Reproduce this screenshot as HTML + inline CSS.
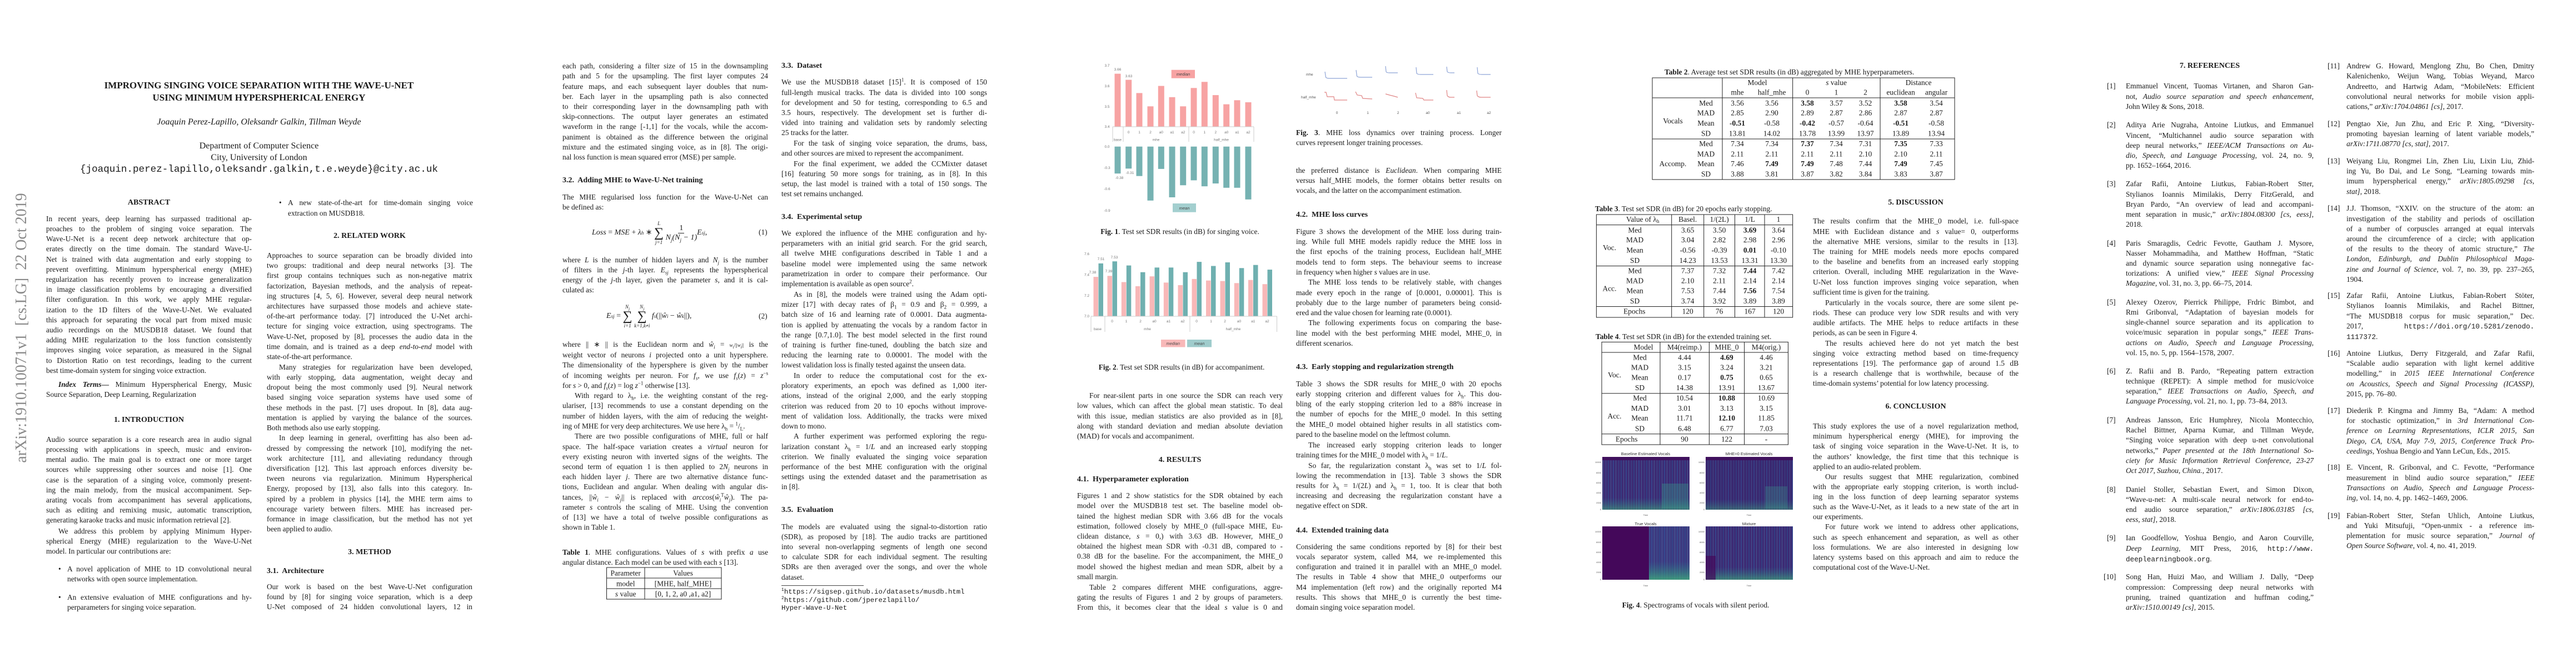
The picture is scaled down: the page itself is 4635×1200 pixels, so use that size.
<!DOCTYPE html>
<html><head><meta charset="utf-8">
<style>
body{margin:0;width:4635px;height:1200px;background:#fff;position:relative;overflow:hidden;font-family:"Liberation Serif",serif;color:#1a1a1a}
sub,sup{line-height:0}
.t{position:absolute;margin:0;width:370px;font-size:13.4px;line-height:18.2px;white-space:nowrap;text-align:justify;text-align-last:justify}
.t e{display:block;text-align-last:left;text-indent:0}
.i{text-indent:22px}
.h{position:absolute;font-weight:bold;font-size:14px;line-height:18px;width:370px;text-align:center;white-space:nowrap}
.sh{position:absolute;font-weight:bold;font-size:14px;line-height:18px;white-space:nowrap}
.c{position:absolute;white-space:nowrap;font-size:13.4px;line-height:18.2px}
.r{position:absolute;font-size:13.4px;line-height:18.2px}
.r .n{position:absolute;left:0;top:0}
.r .t{left:34px;top:0;width:338px}
tt{font-family:"Liberation Mono",monospace;font-size:12.6px}
.fn{position:absolute;font-family:"Liberation Mono",monospace;font-size:12.3px;line-height:14.6px;white-space:nowrap}
</style></head><body>

<div style="position:absolute;left:39px;top:590px;transform:translate(-50%,-50%) rotate(-90deg);font-size:28px;color:#8a8a8a;white-space:nowrap;font-family:'Liberation Serif',serif">arXiv:1910.10071v1&nbsp;&nbsp;[cs.LG]&nbsp;&nbsp;22 Oct 2019</div>

<!-- PAGE 1 -->
<div class="c" style="left:66px;width:800px;top:143px;text-align:center;font-weight:bold;font-size:17px;line-height:22px">IMPROVING SINGING VOICE SEPARATION WITH THE WAVE-U-NET<br>USING MINIMUM HYPERSPHERICAL ENERGY</div>
<div class="c" style="left:66px;width:800px;top:210px;text-align:center;font-style:italic;font-size:16px;line-height:20px">Joaquin Perez-Lapillo, Oleksandr Galkin, Tillman Weyde</div>
<div class="c" style="left:66px;width:800px;top:252px;text-align:center;font-size:16px;line-height:21px">Department of Computer Science<br>City, University of London</div>
<div class="c" style="left:66px;width:800px;top:294px;text-align:center;font-family:'Liberation Mono',monospace;font-size:17.6px;line-height:22px">{joaquin.perez-lapillo,oleksandr.galkin,t.e.weyde}@city.ac.uk</div>

<div class="h" style="left:83px;top:356px">ABSTRACT</div>
<p class="t" style="left:83px;top:384.7px">In recent years, deep learning has surpassed traditional ap-<br>proaches to the problem of singing voice separation. The<br>Wave-U-Net is a recent deep network architecture that op-<br>erates directly on the time domain. The standard Wave-U-<br>Net is trained with data augmentation and early stopping to<br>prevent overfitting. Minimum hyperspherical energy (MHE)<br>regularization has recently proven to increase generalization<br>in image classification problems by encouraging a diversified<br>filter configuration. In this work, we apply MHE regular-<br>ization to the 1D filters of the Wave-U-Net. We evaluated<br>this approach for separating the vocal part from mixed music<br>audio recordings on the MUSDB18 dataset. We found that<br>adding MHE regularization to the loss function consistently<br>improves singing voice separation, as measured in the Signal<br>to Distortion Ratio on test recordings, leading to the current<e>best time-domain system for singing voice extraction.</e></p>
<p class="t i" style="left:83px;top:683.2px"><b><i>Index Terms</i>—</b> Minimum Hyperspherical Energy, Music<e>Source Separation, Deep Learning, Regularization</e></p>
<div class="h" style="left:83px;top:747px">1. INTRODUCTION</div>
<p class="t" style="left:83px;top:781.7px">Audio source separation is a core research area in audio signal<br>processing with applications in speech, music and environ-<br>mental audio. The main goal is to extract one or more target<br>sources while suppressing other sources and noise [1]. One<br>case is the separation of a singing voice, commonly present-<br>ing the main melody, from the musical accompaniment. Sep-<br>arating vocals from accompaniment has several applications,<br>such as editing and remixing music, automatic transcription,<e>generating karaoke tracks and music information retrieval [2].</e></p>
<p class="t i" style="left:83px;top:946.9px">We address this problem by applying Minimum Hyper-<br>spherical Energy (MHE) regularization to the Wave-U-Net<e>model. In particular our contributions are:</e></p>
<div class="c" style="left:105px;top:1014.7px">•</div>
<p class="t" style="left:121px;width:332px;top:1014.7px">A novel application of MHE to 1D convolutional neural<e>networks with open source implementation.</e></p>
<div class="c" style="left:105px;top:1065.5px">•</div>
<p class="t" style="left:121px;width:332px;top:1065.5px">An extensive evaluation of MHE configurations and hy-<e>perparameters for singing voice separation.</e></p>

<div class="c" style="left:502px;top:356.3px">•</div>
<p class="t" style="left:518px;width:333px;top:356.3px">A new state-of-the-art for time-domain singing voice<e>extraction on MUSDB18.</e></p>
<div class="h" style="left:480px;top:416.3px">2. RELATED WORK</div>
<p class="t" style="left:480px;top:450.9px">Approaches to source separation can be broadly divided into<br>two groups: traditional and deep neural networks [3]. The<br>first group contains techniques such as non-negative matrix<br>factorization, Bayesian methods, and the analysis of repeat-<br>ing structures [4, 5, 6]. However, several deep neural network<br>architectures have surpassed those models and achieve state-<br>of-the-art performance today. [7] introduced the U-Net archi-<br>tecture for singing voice extraction, using spectrograms. The<br>Wave-U-Net, proposed by [8], processes the audio data in the<br>time domain, and is trained as a deep <i>end-to-end</i> model with<e>state-of-the-art performance.</e></p>
<p class="t i" style="left:480px;top:651.7px">Many strategies for regularization have been developed,<br>with early stopping, data augmentation, weight decay and<br>dropout being the most commonly used [9]. Neural network<br>based singing voice separation systems have used some of<br>these methods in the past. [7] uses dropout. In [8], data aug-<br>mentation is applied by varying the balance of the sources.<e>Both methods also use early stopping.</e></p>
<p class="t i" style="left:480px;top:779.4px">In deep learning in general, overfitting has also been ad-<br>dressed by compressing the network [10], modifying the net-<br>work architecture [11], and alleviating redundancy through<br>diversification [12]. This last approach enforces diversity be-<br>tween neurons via regularization. Minimum Hyperspherical<br>Energy, proposed by [13], also falls into this category. In-<br>spired by a problem in physics [14], the MHE term aims to<br>encourage variety between filters. MHE has increased per-<br>formance in image classification, but the method has not yet<e>been applied to audio.</e></p>
<div class="h" style="left:480px;top:984.7px">3. METHOD</div>
<div class="sh" style="left:480px;top:1019.4px">3.1.&nbsp; Architecture</div>
<p class="t" style="left:480px;top:1046.9px">Our work is based on the best Wave-U-Net configuration<br>found by [8] for singing voice separation, which is a deep<br>U-Net composed of 24 hidden convolutional layers, 12 in</p>

<!-- PAGE 2 -->
<p class="t" style="left:1012px;top:110.1px">each path, considering a filter size of 15 in the downsampling<br>path and 5 for the upsampling. The first layer computes 24<br>feature maps, and each subsequent layer doubles that num-<br>ber. Each layer in the upsampling path is also connected<br>to their corresponding layer in the downsampling path with<br>skip-connections. The output layer generates an estimated<br>waveform in the range [-1,1] for the vocals, while the accom-<br>paniment is obtained as the difference between the original<br>mixture and the estimated singing voice, as in [8]. The origi-<e>nal loss function is mean squared error (MSE) per sample.</e></p>
<div class="sh" style="left:1012px;top:316.3px">3.2.&nbsp; Adding MHE to Wave-U-Net training</div>
<p class="t" style="left:1012px;top:345.5px">The MHE regularised loss function for the Wave-U-Net can<e>be defined as:</e></p>
<div class="c" style="left:1065px;top:390px;font-style:italic;font-size:14px;display:flex;align-items:center;height:58px">Loss<span style="font-style:normal">&nbsp;=&nbsp;</span>MSE<span style="font-style:normal">&nbsp;+&nbsp;</span>λ<sub style="font-size:9px">h</sub><span style="font-style:normal">&nbsp;∗&nbsp;</span><span style="display:inline-flex;flex-direction:column;align-items:center;font-size:9px;line-height:10px"><span>L</span><span style="font-size:24px;line-height:24px;font-style:normal">∑</span><span>j=1</span></span>&nbsp;<span style="display:inline-flex;flex-direction:column;align-items:center;line-height:16px"><span style="font-style:normal;border-bottom:1px solid #222;padding:0 2px">1</span><span>N<sub style="font-size:9px">j</sub>(N<sub style="font-size:9px">j</sub> − 1)</span></span>E<sub style="font-size:9px">sj</sub><span style="font-style:normal">,</span></div>
<div class="c" style="left:1365px;top:409.4px">(1)</div>
<p class="t" style="left:1012px;top:458.6px">where <i>L</i> is the number of hidden layers and <i>N<sub style="font-size:9px">j</sub></i> is the number<br>of filters in the <i>j</i>-th layer. <i>E<sub style="font-size:9px">sj</sub></i> represents the hyperspherical<br>energy of the <i>j</i>-th layer, given the parameter <i>s</i>, and it is cal-<e>culated as:</e></p>
<div class="c" style="left:1091px;top:540px;font-style:italic;font-size:14px;display:flex;align-items:center;height:58px">E<sub style="font-size:9px">sj</sub><span style="font-style:normal">&nbsp;=&nbsp;</span><span style="display:inline-flex;flex-direction:column;align-items:center;font-size:9px;line-height:10px"><span>N<sub>j</sub></span><span style="font-size:24px;line-height:24px;font-style:normal">∑</span><span>i=1</span></span>&nbsp;<span style="display:inline-flex;flex-direction:column;align-items:center;font-size:9px;line-height:10px"><span>N<sub>j</sub></span><span style="font-size:24px;line-height:24px;font-style:normal">∑</span><span>k=1,k≠i</span></span>&nbsp;f<sub style="font-size:9px">s</sub><span style="font-style:normal">(||</span>ŵ<sub style="font-size:9px">i</sub><span style="font-style:normal">&nbsp;−&nbsp;</span>ŵ<sub style="font-size:9px">k</sub><span style="font-style:normal">||),</span></div>
<div class="c" style="left:1365px;top:560px">(2)</div>
<p class="t" style="left:1012px;top:610.9px">where || ∗ || is the Euclidean norm and <i>ŵ<sub style="font-size:9px">i</sub></i> = <span style="font-size:9px"><i>w<sub>i</sub></i>/||<i>w<sub>i</sub></i>||</span> is the<br>weight vector of neurons <i>i</i> projected onto a unit hypersphere.<br>The dimensionality of the hypersphere is given by the number<br>of incoming weights per neuron. For <i>f<sub style="font-size:9px">s</sub></i>, we use <i>f<sub style="font-size:9px">s</sub></i>(<i>z</i>) = <i>z</i><sup style="font-size:9px">−s</sup><e>for <i>s</i> &gt; 0, and <i>f<sub style="font-size:9px">s</sub></i>(<i>z</i>) = log <i>z</i><sup style="font-size:9px">−1</sup> otherwise [13].</e></p>
<p class="t i" style="left:1012px;top:703.2px">With regard to λ<sub style="font-size:9px">h</sub>, i.e. the weighting constant of the reg-<br>ulariser, [13] recommends to use a constant depending on the<br>number of hidden layers, with the aim of reducing the weight-<e>ing of MHE for very deep architectures. We use here λ<sub style="font-size:9px">h</sub> = <sup style="font-size:9px">1</sup>/<sub style="font-size:9px">L</sub>.</e></p>
<p class="t i" style="left:1012px;top:776.3px">There are two possible configurations of MHE, full or half<br>space. The half-space variation creates a <i>virtual</i> neuron for<br>every existing neuron with inverted signs of the weights. The<br>second term of equation 1 is then applied to 2<i>N<sub style="font-size:9px">j</sub></i> neurons in<br>each hidden layer <i>j</i>. There are two alternative distance func-<br>tions, Euclidean and angular. When dealing with angular dis-<br>tances, ||<i>ŵ<sub style="font-size:9px">i</sub></i> − <i>ŵ<sub style="font-size:9px">j</sub></i>|| is replaced with <i>arccos</i>(<i>ŵ<sub style="font-size:9px">i</sub></i><sup style="font-size:9px">T</sup><i>ŵ<sub style="font-size:9px">j</sub></i>). The pa-<br>rameter <i>s</i> controls the scaling of MHE. Using the convention<br>of [13] we have a total of twelve possible configurations as<e>shown in Table 1.</e></p>
<p class="t" style="left:1012px;top:984.7px"><b>Table 1</b>. MHE configurations. Values of <i>s</i> with prefix <i>a</i> use<e>angular distance. Each model can be used with each <i>s</i> [13].</e></p>

<div class="sh" style="left:1406px;top:110.1px">3.3.&nbsp; Dataset</div>
<p class="t" style="left:1406px;top:139.4px">We use the MUSDB18 dataset [15]<sup style="font-size:9px">1</sup>. It is composed of 150<br>full-length musical tracks. The data is divided into 100 songs<br>for development and 50 for testing, corresponding to 6.5 and<br>3.5 hours, respectively. The development set is further di-<br>vided into training and validation sets by randomly selecting<e>25 tracks for the latter.</e></p>
<p class="t i" style="left:1406px;top:248.6px">For the task of singing voice separation, the drums, bass,<e>and other sources are mixed to represent the accompaniment.</e></p>
<p class="t i" style="left:1406px;top:285.5px">For the final experiment, we added the CCMixter dataset<br>[16] featuring 50 more songs for training, as in [8]. In this<br>setup, the last model is trained with a total of 150 songs. The<e>test set remains unchanged.</e></p>
<div class="sh" style="left:1406px;top:382.4px">3.4.&nbsp; Experimental setup</div>
<p class="t" style="left:1406px;top:410.9px">We explored the influence of the MHE configuration and hy-<br>perparameters with an initial grid search. For the grid search,<br>all twelve MHE configurations described in Table 1 and a<br>baseline model were implemented using the same network<br>parametrization in order to compare their performance. Our<e>implementation is available as open source<sup style="font-size:9px">2</sup>.</e></p>
<p class="t i" style="left:1406px;top:520.9px">As in [8], the models were trained using the Adam opti-<br>mizer [17] with decay rates of β<sub style="font-size:9px">1</sub> = 0.9 and β<sub style="font-size:9px">2</sub> = 0.999, a<br>batch size of 16 and learning rate of 0.0001. Data augmenta-<br>tion is applied by attenuating the vocals by a random factor in<br>the range [0.7,1.0]. The best model selected in the first round<br>of training is further fine-tuned, doubling the batch size and<br>reducing the learning rate to 0.00001. The model with the<e>lowest validation loss is finally tested against the unseen data.</e></p>
<p class="t i" style="left:1406px;top:666.9px">In order to reduce the computational cost for the ex-<br>ploratory experiments, an epoch was defined as 1,000 iter-<br>ations, instead of the original 2,000, and the early stopping<br>criterion was reduced from 20 to 10 epochs without improve-<br>ment of validation loss. Additionally, the tracks were mixed<e>down to mono.</e></p>
<p class="t i" style="left:1406px;top:776.3px">A further experiment was performed exploring the regu-<br>larization constant λ<sub style="font-size:9px">h</sub> = 1/<i>L</i> and an increased early stopping<br>criterion. We finally evaluated the singing voice separation<br>performance of the best MHE configuration with the original<br>settings using the extended dataset and the parametrisation as<e>in [8].</e></p>
<div class="sh" style="left:1406px;top:909.4px">3.5.&nbsp; Evaluation</div>
<p class="t" style="left:1406px;top:938.6px">The models are evaluated using the signal-to-distortion ratio<br>(SDR), as proposed by [18]. The audio tracks are partitioned<br>into several non-overlapping segments of length one second<br>to calculate SDR for each individual segment. The resulting<br>SDRs are then averaged over the songs, and over the whole<e>dataset.</e></p>
<div style="position:absolute;left:1406px;top:1053px;width:148px;border-top:1px solid #444"></div>
<div class="fn" style="left:1406px;top:1058px"><sup style="font-size:8px">1</sup>https://sigsep.github.io/datasets/musdb.html<br><sup style="font-size:8px">2</sup>https://github.com/jperezlapillo/<br>Hyper-Wave-U-Net</div>

<!-- PAGE 3 -->
<div class="c" style="left:1938px;width:370px;top:407.6px;text-align:center"><b>Fig. 1</b>. Test set SDR results (in dB) for singing voice.</div>
<div class="c" style="left:1941px;width:370px;top:652.4px;text-align:center"><b>Fig. 2</b>. Test set SDR results (in dB) for accompaniment.</div>
<p class="t i" style="left:1938px;top:703.2px">For near-silent parts in one source the SDR can reach very<br>low values, which can affect the global mean statistic. To deal<br>with this issue, median statistics are also provided as in [8],<br>along with standard deviation and median absolute deviation<e>(MAD) for vocals and accompaniment.</e></p>
<div class="h" style="left:1938px;top:819.4px">4. RESULTS</div>
<div class="sh" style="left:1938px;top:853.9px">4.1.&nbsp; Hyperparameter exploration</div>
<p class="t" style="left:1938px;top:883.2px">Figures 1 and 2 show statistics for the SDR obtained by each<br>model over the MUSDB18 test set. The baseline model ob-<br>tained the highest median SDR with 3.66 dB for the vocals<br>estimation, followed closely by MHE_0 (full-space MHE, Eu-<br>clidean distance, <i>s</i> = 0,) with 3.63 dB. However, MHE_0<br>obtained the highest mean SDR with -0.31 dB, compared to -<br>0.38 dB for the baseline. For the accompaniment, the MHE_0<br>model showed the highest median and mean SDR, albeit by a<e>small margin.</e></p>
<p class="t i" style="left:1938px;top:1047.9px">Table 2 compares different MHE configurations, aggre-<br>gating the results of Figures 1 and 2 by groups of parameters.<br>From this, it becomes clear that the ideal <i>s</i> value is 0 and</p>

<p class="t" style="left:2332px;top:229.9px"><b>Fig. 3</b>. MHE loss dynamics over training process. Longer<e>curves represent longer training processes.</e></p>
<p class="t" style="left:2332px;top:297.9px">the preferred distance is <i>Euclidean</i>. When comparing MHE<br>versus half_MHE models, the former obtains better results on<e>vocals, and the latter on the accompaniment estimation.</e></p>
<div class="sh" style="left:2332px;top:377.9px">4.2.&nbsp; MHE loss curves</div>
<p class="t" style="left:2332px;top:407.9px">Figure 3 shows the development of the MHE loss during train-<br>ing. While full MHE models rapidly reduce the MHE loss in<br>the first epochs of the training process, Euclidean half_MHE<br>models tend to form steps. The behaviour seems to increase<e>in frequency when higher <i>s</i> values are in use.</e></p>
<p class="t i" style="left:2332px;top:499.4px">The MHE loss tends to be relatively stable, with changes<br>made every epoch in the range of [0.0001, 0.00001]. This is<br>probably due to the large number of parameters being consid-<e>ered and the value chosen for learning rate (0.0001).</e></p>
<p class="t i" style="left:2332px;top:572.4px">The following experiments focus on comparing the base-<br>line model with the best performing MHE model, MHE_0, in<e>different scenarios.</e></p>
<div class="sh" style="left:2332px;top:652.4px">4.3.&nbsp; Early stopping and regularization strength</div>
<p class="t" style="left:2332px;top:681.7px">Table 3 shows the SDR results for MHE_0 with 20 epochs<br>early stopping criterion and different values for λ<sub style="font-size:9px">h</sub>. This dou-<br>bling of the early stopping criterion led to a 88% increase in<br>the number of epochs for the MHE_0 model. In this setting<br>the MHE_0 model obtained higher results in all statistics com-<e>pared to the baseline model on the leftmost column.</e></p>
<p class="t i" style="left:2332px;top:791.7px">The increased early stopping criterion leads to longer<e>training times for the MHE_0 model with λ<sub style="font-size:9px">h</sub> = 1/<i>L</i>.</e></p>
<p class="t i" style="left:2332px;top:828.6px">So far, the regularization constant λ<sub style="font-size:9px">h</sub> was set to 1/<i>L</i> fol-<br>lowing the recommendation in [13]. Table 3 shows the SDR<br>results for λ<sub style="font-size:9px">h</sub> = 1/(2<i>L</i>) and λ<sub style="font-size:9px">h</sub> = 1, too. It is clear that both<br>increasing and decreasing the regularization constant have a<e>negative effect on SDR.</e></p>
<div class="sh" style="left:2332px;top:945.5px">4.4.&nbsp; Extended training data</div>
<p class="t" style="left:2332px;top:974.7px">Considering the same conditions reported by [8] for their best<br>vocals separator system, called M4, we re-implemented this<br>configuration and trained it in parallel with an MHE_0 model.<br>The results in Table 4 show that MHE_0 outperforms our<br>M4 implementation (left row) and the originally reported M4<br>results. This shows that MHE_0 is currently the best time-<e>domain singing voice separation model.</e></p>

<!-- PAGE 4 -->
<div class="c" style="left:2995px;top:120.9px"><b>Table 2</b>. Average test set SDR results (in dB) aggregated by MHE hyperparameters.</div>
<div class="c" style="left:2870px;top:366.9px"><b>Table 3</b>. Test set SDR (in dB) for 20 epochs early stopping.</div>
<div class="c" style="left:2871px;top:596.9px"><b>Table 4</b>. Test set SDR (in dB) for the extended training set.</div>
<div class="c" style="left:2851px;width:400px;top:1079.9px;text-align:center"><b>Fig. 4</b>. Spectrograms of vocals with silent period.</div>

<div class="h" style="left:3262px;top:355.5px">5. DISCUSSION</div>
<p class="t" style="left:3262px;top:389.4px">The results confirm that the MHE_0 model, i.e. full-space<br>MHE with Euclidean distance and <i>s</i> value= 0, outperforms<br>the alternative MHE versions, similar to the results in [13].<br>The training for MHE models needs more epochs compared<br>to the baseline and benefits from an increased early stopping<br>criterion. Overall, including MHE regularization in the Wave-<br>U-Net loss function improves singing voice separation, when<e>sufficient time is given for the training.</e></p>
<p class="t i" style="left:3262px;top:535.5px">Particularly in the vocals source, there are some silent pe-<br>riods. These can produce very low SDR results and with very<br>audible artifacts. The MHE helps to reduce artifacts in these<e>periods, as can be seen in Figure 4.</e></p>
<p class="t i" style="left:3262px;top:608.6px">The results achieved here do not yet match the best<br>singing voice extracting method based on time-frequency<br>representations [19]. The performance gap of around 1.5 dB<br>is a research challenge that is worthwhile, because of the<e>time-domain systems’ potential for low latency processing.</e></p>
<div class="h" style="left:3262px;top:723.2px">6. CONCLUSION</div>
<p class="t" style="left:3262px;top:757.9px">This study explores the use of a novel regularization method,<br>minimum hyperspherical energy (MHE), for improving the<br>task of singing voice separation in the Wave-U-Net. It is, to<br>the authors’ knowledge, the first time that this technique is<e>applied to an audio-related problem.</e></p>
<p class="t i" style="left:3262px;top:848.6px">Our results suggest that MHE regularization, combined<br>with the appropriate early stopping criterion, is worth includ-<br>ing in the loss function of deep learning separator systems<br>such as the Wave-U-Net, as it leads to a new state of the art in<e>our experiments.</e></p>
<p class="t i" style="left:3262px;top:939.4px">For future work we intend to address other applications,<br>such as speech enhancement and separation, as well as other<br>loss formulations. We are also interested in designing low<br>latency systems based on this approach and aim to reduce the<e>computational cost of the Wave-U-Net.</e></p>

<!-- PAGE 5 -->
<div class="h" style="left:3791px;top:110.1px">7. REFERENCES</div>
<div class="r" style="left:3791px;top:146.3px"><span class="n">[1]</span><p class="t">Emmanuel Vincent, Tuomas Virtanen, and Sharon Gan-<br>not, <i>Audio source separation and speech enhancement</i>,<e>John Wiley &amp; Sons, 2018.</e></p></div>
<div class="r" style="left:3791px;top:216.3px"><span class="n">[2]</span><p class="t">Aditya Arie Nugraha, Antoine Liutkus, and Emmanuel<br>Vincent, “Multichannel audio source separation with<br>deep neural networks,” <i>IEEE/ACM Transactions on Au-</i><br><i>dio, Speech, and Language Processing</i>, vol. 24, no. 9,<e>pp. 1652–1664, 2016.</e></p></div>
<div class="r" style="left:3791px;top:322.4px"><span class="n">[3]</span><p class="t">Zafar Rafii, Antoine Liutkus, Fabian-Robert Stter,<br>Stylianos Ioannis Mimilakis, Derry FitzGerald, and<br>Bryan Pardo, “An overview of lead and accompani-<br>ment separation in music,” <i>arXiv:1804.08300 [cs, eess]</i>,<e>2018.</e></p></div>
<div class="r" style="left:3791px;top:428.6px"><span class="n">[4]</span><p class="t">Paris Smaragdis, Cedric Fevotte, Gautham J. Mysore,<br>Nasser Mohammadiha, and Matthew Hoffman, “Static<br>and dynamic source separation using nonnegative fac-<br>torizations: A unified view,” <i>IEEE Signal Processing</i><e><i>Magazine</i>, vol. 31, no. 3, pp. 66–75, 2014.</e></p></div>
<div class="r" style="left:3791px;top:534.7px"><span class="n">[5]</span><p class="t">Alexey Ozerov, Pierrick Philippe, Frdric Bimbot, and<br>Rmi Gribonval, “Adaptation of bayesian models for<br>single-channel source separation and its application to<br>voice/music separation in popular songs,” <i>IEEE Trans-</i><br><i>actions on Audio, Speech and Language Processing</i>,<e>vol. 15, no. 5, pp. 1564–1578, 2007.</e></p></div>
<div class="r" style="left:3791px;top:658.6px"><span class="n">[6]</span><p class="t">Z. Rafii and B. Pardo, “Repeating pattern extraction<br>technique (REPET): A simple method for music/voice<br>separation,” <i>IEEE Transactions on Audio, Speech, and</i><e><i>Language Processing</i>, vol. 21, no. 1, pp. 73–84, 2013.</e></p></div>
<div class="r" style="left:3791px;top:746.9px"><span class="n">[7]</span><p class="t">Andreas Jansson, Eric Humphrey, Nicola Montecchio,<br>Rachel Bittner, Aparna Kumar, and Tillman Weyde,<br>“Singing voice separation with deep u-net convolutional<br>networks,” <i>Paper presented at the 18th International So-</i><br><i>ciety for Music Information Retrieval Conference, 23-27</i><e><i>Oct 2017, Suzhou, China.</i>, 2017.</e></p></div>
<div class="r" style="left:3791px;top:871.7px"><span class="n">[8]</span><p class="t">Daniel Stoller, Sebastian Ewert, and Simon Dixon,<br>“Wave-u-net: A multi-scale neural network for end-to-<br>end audio source separation,” <i>arXiv:1806.03185 [cs,</i><e><i>eess, stat]</i>, 2018.</e></p></div>
<div class="r" style="left:3791px;top:959.4px"><span class="n">[9]</span><p class="t">Ian Goodfellow, Yoshua Bengio, and Aaron Courville,<br><i>Deep Learning</i>, MIT Press, 2016, <tt>http://www.</tt><e><tt>deeplearningbook.org</tt>.</e></p></div>
<div class="r" style="left:3785px;top:1029.4px"><span class="n">[10]</span><p class="t" style="left:40px">Song Han, Huizi Mao, and William J. Dally, “Deep<br>compression: Compressing deep neural networks with<br>pruning, trained quantization and huffman coding,”<e><i>arXiv:1510.00149 [cs]</i>, 2015.</e></p></div>

<div class="r" style="left:4188px;top:110.1px"><span class="n">[11]</span><p class="t">Andrew G. Howard, Menglong Zhu, Bo Chen, Dmitry<br>Kalenichenko, Weijun Wang, Tobias Weyand, Marco<br>Andreetto, and Hartwig Adam, “MobileNets: Efficient<br>convolutional neural networks for mobile vision appli-<e>cations,” <i>arXiv:1704.04861 [cs]</i>, 2017.</e></p></div>
<div class="r" style="left:4188px;top:213.9px"><span class="n">[12]</span><p class="t">Pengtao Xie, Jun Zhu, and Eric P. Xing, “Diversity-<br>promoting bayesian learning of latent variable models,”<e><i>arXiv:1711.08770 [cs, stat]</i>, 2017.</e></p></div>
<div class="r" style="left:4188px;top:280.9px"><span class="n">[13]</span><p class="t">Weiyang Liu, Rongmei Lin, Zhen Liu, Lixin Liu, Zhid-<br>ing Yu, Bo Dai, and Le Song, “Learning towards min-<br>imum hyperspherical energy,” <i>arXiv:1805.09298 [cs,</i><e><i>stat]</i>, 2018.</e></p></div>
<div class="r" style="left:4188px;top:366.3px"><span class="n">[14]</span><p class="t">J.J. Thomson, “XXIV. on the structure of the atom: an<br>investigation of the stability and periods of oscillation<br>of a number of corpuscles arranged at equal intervals<br>around the circumference of a circle; with application<br>of the results to the theory of atomic structure,” <i>The</i><br><i>London, Edinburgh, and Dublin Philosophical Maga-</i><br><i>zine and Journal of Science</i>, vol. 7, no. 39, pp. 237–265,<e>1904.</e></p></div>
<div class="r" style="left:4188px;top:523.2px"><span class="n">[15]</span><p class="t">Zafar Rafii, Antoine Liutkus, Fabian-Robert Stöter,<br>Stylianos Ioannis Mimilakis, and Rachel Bittner,<br>“The MUSDB18 corpus for music separation,” Dec.<br>2017, <tt>https://doi.org/10.5281/zenodo.</tt><e><tt>1117372</tt>.</e></p></div>
<div class="r" style="left:4188px;top:626.9px"><span class="n">[16]</span><p class="t">Antoine Liutkus, Derry Fitzgerald, and Zafar Rafii,<br>“Scalable audio separation with light kernel additive<br>modelling,” in <i>2015 IEEE International Conference</i><br><i>on Acoustics, Speech and Signal Processing (ICASSP)</i>,<e>2015, pp. 76–80.</e></p></div>
<div class="r" style="left:4188px;top:729.9px"><span class="n">[17]</span><p class="t">Diederik P. Kingma and Jimmy Ba, “Adam: A method<br>for stochastic optimization,” in <i>3rd International Con-</i><br><i>ference on Learning Representations, ICLR 2015, San</i><br><i>Diego, CA, USA, May 7-9, 2015, Conference Track Pro-</i><e><i>ceedings</i>, Yoshua Bengio and Yann LeCun, Eds., 2015.</e></p></div>
<div class="r" style="left:4188px;top:832.4px"><span class="n">[18]</span><p class="t">E. Vincent, R. Gribonval, and C. Fevotte, “Performance<br>measurement in blind audio source separation,” <i>IEEE</i><br><i>Transactions on Audio, Speech and Language Process-</i><e><i>ing</i>, vol. 14, no. 4, pp. 1462–1469, 2006.</e></p></div>
<div class="r" style="left:4188px;top:918.6px"><span class="n">[19]</span><p class="t">Fabian-Robert Stter, Stefan Uhlich, Antoine Liutkus,<br>and Yuki Mitsufuji, “Open-unmix - a reference im-<br>plementation for music source separation,” <i>Journal of</i><e><i>Open Source Software</i>, vol. 4, no. 41, 2019.</e></p></div>

<!-- GRAPHICS -->
<svg width="4635" height="1200" style="position:absolute;left:0;top:0" xmlns="http://www.w3.org/2000/svg" font-family="Liberation Serif, serif">
<defs>
<pattern id="st" width="23" height="10" patternUnits="userSpaceOnUse">
<rect x="0" y="0" width="1" height="10" fill="#4a78a8" opacity=".55"/>
<rect x="4" y="0" width="2" height="10" fill="#33549a" opacity=".6"/>
<rect x="9" y="0" width="1" height="10" fill="#4f8aad" opacity=".45"/>
<rect x="14" y="0" width="1" height="10" fill="#3a5f98" opacity=".55"/>
<rect x="18" y="0" width="2" height="10" fill="#2f4a8c" opacity=".6"/>
</pattern>
<linearGradient id="gb" x1="0" y1="0" x2="0" y2="1">
<stop offset="0" stop-color="#2a8c8c" stop-opacity="0"/>
<stop offset="1" stop-color="#3fb57a" stop-opacity=".75"/>
</linearGradient>
</defs>

<!-- Table 1 -->
<g stroke="#222" stroke-width="1" fill="none">
<rect x="1091.5" y="1021" width="206.5" height="57"/>
<line x1="1091.5" y1="1040" x2="1298" y2="1040"/><line x1="1091.5" y1="1059" x2="1298" y2="1059"/>
<line x1="1160" y1="1021" x2="1160" y2="1078"/>
</g>
<g font-size="13.4" text-anchor="middle" fill="#1a1a1a">
<text x="1125.7" y="1035.3">Parameter</text><text x="1229" y="1035.3">Values</text>
<text x="1125.7" y="1054.5">model</text><text x="1229" y="1054.5">[MHE, half_MHE]</text>
<text x="1125.7" y="1073"><tspan font-style="italic">s</tspan> value</text><text x="1229" y="1073">[0, 1, 2, a0 ,a1, a2]</text>
</g>

<!-- Fig 1 -->
<g font-family="Liberation Sans, sans-serif" font-size="6.5" fill="#777" text-anchor="middle">
<text x="1992" y="120">3.7</text><text x="1992" y="157">3.6</text><text x="1992" y="194">3.5</text><text x="1992" y="230">3.4</text>
<text x="1992" y="266">0.0</text><text x="1992" y="304">-0.3</text><text x="1992" y="342">-0.6</text><text x="1992" y="381">-0.9</text>
</g>
<g fill="#f7a3a3">
<rect x="2005.5" y="132.6" width="11" height="95.4"/><rect x="2025.2" y="143.6" width="11" height="84.4"/>
<rect x="2044.5" y="167.4" width="11" height="60.6"/><rect x="2064.5" y="191.3" width="11" height="36.7"/>
<rect x="2083.8" y="154.6" width="11" height="73.4"/><rect x="2103.5" y="174.8" width="11" height="53.2"/>
<rect x="2123.2" y="191.3" width="11" height="36.7"/><rect x="2142.5" y="158.3" width="11" height="69.7"/>
<rect x="2161.8" y="147.3" width="11" height="80.7"/><rect x="2181.8" y="171.1" width="11" height="56.9"/>
<rect x="2201.2" y="187.6" width="11" height="40.4"/><rect x="2220.5" y="180.3" width="11" height="47.7"/>
<rect x="2240.5" y="184" width="11" height="44"/>
</g>
<g fill="#76b2b2">
<rect x="2005.5" y="263.7" width="11" height="48.5"/><rect x="2025.2" y="263.7" width="11" height="39.6"/>
<rect x="2044.5" y="263.7" width="11" height="53"/><rect x="2064.5" y="263.7" width="11" height="97.1"/>
<rect x="2083.8" y="263.7" width="11" height="40.2"/><rect x="2103.5" y="263.7" width="11" height="91.3"/>
<rect x="2123.2" y="263.7" width="11" height="69.6"/><rect x="2142.5" y="263.7" width="11" height="60.7"/>
<rect x="2161.8" y="263.7" width="11" height="71.5"/><rect x="2181.8" y="263.7" width="11" height="66.4"/>
<rect x="2201.2" y="263.7" width="11" height="74.1"/><rect x="2220.5" y="263.7" width="11" height="74.1"/>
<rect x="2240.5" y="263.7" width="11" height="95.1"/>
</g>
<g stroke="#ccc" stroke-width="1">
<line x1="2002" y1="228" x2="2256" y2="228"/>
<line x1="2002" y1="228" x2="2002" y2="255"/><line x1="2021" y1="228" x2="2021" y2="255"/>
<line x1="2139" y1="228" x2="2139" y2="255"/><line x1="2256" y1="228" x2="2256" y2="255"/>
</g>
<g font-family="Liberation Sans, sans-serif" font-size="6.5" fill="#777" text-anchor="middle">
<text x="2030.7" y="240">0</text><text x="2050" y="240">1</text><text x="2070" y="240">2</text><text x="2089.3" y="240">a0</text><text x="2109" y="240">a1</text><text x="2128.7" y="240">a2</text>
<text x="2148" y="240">0</text><text x="2167.3" y="240">1</text><text x="2187.3" y="240">2</text><text x="2206.7" y="240">a0</text><text x="2226" y="240">a1</text><text x="2246" y="240">a2</text>
<text x="2011" y="253.5">base</text><text x="2080" y="253.5">mhe</text><text x="2197.5" y="253.5">half_mhe</text>
<text x="2011" y="127">3.66</text><text x="2031" y="139">3.63</text><text x="2014" y="322">-0.38</text><text x="2033" y="313">-0.31</text>
</g>
<rect x="2107.7" y="125.7" width="42.3" height="15" fill="#f7a3a3"/>
<text x="2129" y="136" font-family="Liberation Sans, sans-serif" font-size="7.5" font-style="italic" fill="#444" text-anchor="middle">median</text>
<rect x="2110" y="366" width="42" height="15.7" fill="#a3cfcf"/>
<text x="2131" y="377" font-family="Liberation Sans, sans-serif" font-size="7.5" font-style="italic" fill="#444" text-anchor="middle">mean</text>

<!-- Fig 2 -->
<g font-family="Liberation Sans, sans-serif" font-size="6.5" fill="#777" text-anchor="middle">
<text x="1955.5" y="459">7.6</text><text x="1955.5" y="496.5">7.4</text><text x="1955.5" y="534">7.2</text><text x="1955.5" y="571">7.0</text>
</g>
<g fill="#f8b8b8">
<rect x="1967.5" y="498.1" width="8.5" height="70.9"/><rect x="1992.5" y="496.3" width="8.5" height="72.7"/>
<rect x="2017.8" y="507.5" width="8.5" height="61.5"/><rect x="2043" y="514.9" width="8.5" height="54.1"/>
<rect x="2068.5" y="497.2" width="8.5" height="71.8"/><rect x="2093.8" y="508.4" width="8.5" height="60.6"/>
<rect x="2119.5" y="513" width="8.5" height="56"/><rect x="2144.5" y="501.9" width="8.5" height="67.1"/>
<rect x="2170" y="504.7" width="8.5" height="64.3"/><rect x="2195.5" y="505.6" width="8.5" height="63.4"/>
<rect x="2220.8" y="509.3" width="8.5" height="59.7"/><rect x="2246" y="503.7" width="8.5" height="65.3"/>
<rect x="2271.5" y="511.2" width="8.5" height="57.8"/>
</g>
<g fill="#6fb0b0">
<rect x="1976.5" y="473.9" width="8.5" height="95.1"/><rect x="2001.5" y="470.2" width="8.5" height="98.8"/>
<rect x="2026.8" y="477.6" width="8.5" height="91.4"/><rect x="2052" y="489.7" width="8.5" height="79.3"/>
<rect x="2077.5" y="481.3" width="8.5" height="87.7"/><rect x="2102.8" y="481.3" width="8.5" height="87.7"/>
<rect x="2128.5" y="489.7" width="8.5" height="79.3"/><rect x="2153.5" y="471.1" width="8.5" height="97.9"/>
<rect x="2179" y="478.5" width="8.5" height="90.5"/><rect x="2204.5" y="472" width="8.5" height="97"/>
<rect x="2229.8" y="482.3" width="8.5" height="86.7"/><rect x="2255" y="476.7" width="8.5" height="92.3"/>
<rect x="2280.5" y="485.1" width="8.5" height="83.9"/>
</g>
<g stroke="#ccc" stroke-width="1">
<line x1="1963" y1="569" x2="2297.5" y2="569"/>
<line x1="1963" y1="569" x2="1963" y2="597"/><line x1="1988" y1="569" x2="1988" y2="597"/>
<line x1="2141" y1="569" x2="2141" y2="597"/><line x1="2297.5" y1="569" x2="2297.5" y2="597"/>
</g>
<g font-family="Liberation Sans, sans-serif" font-size="6.5" fill="#777" text-anchor="middle">
<text x="2001" y="580">0</text><text x="2026.5" y="580">1</text><text x="2052" y="580">2</text><text x="2077" y="580">a0</text><text x="2102.5" y="580">a1</text><text x="2128" y="580">a2</text>
<text x="2153" y="580">0</text><text x="2179" y="580">1</text><text x="2204" y="580">2</text><text x="2229.5" y="580">a0</text><text x="2254.8" y="580">a1</text><text x="2280" y="580">a2</text>
<text x="1975" y="594">base</text><text x="2064.5" y="594">mhe</text><text x="2219" y="594">half_mhe</text>
<text x="1966" y="492">7.38</text><text x="1981" y="468">7.51</text><text x="2005" y="465">7.53</text><text x="1995" y="490">7.39</text>
</g>
<rect x="2089" y="611" width="43.5" height="13.5" fill="#f8b8b8"/>
<text x="2110.7" y="620.5" font-family="Liberation Sans, sans-serif" font-size="7.5" font-style="italic" fill="#444" text-anchor="middle">median</text>
<rect x="2136" y="611" width="44" height="13.5" fill="#9fcccc"/>
<text x="2158" y="620.5" font-family="Liberation Sans, sans-serif" font-size="7.5" font-style="italic" fill="#444" text-anchor="middle">mean</text>

<!-- Fig 3 -->
<g font-family="Liberation Sans, sans-serif" font-size="6.5" fill="#555">
<text x="2350" y="136">mhe</text><text x="2341" y="177">half_mhe</text>
<g text-anchor="middle"><text x="2405.5" y="205">0</text><text x="2461" y="205">1</text><text x="2515.5" y="205">2</text><text x="2569" y="205">a0</text><text x="2625" y="205">a1</text><text x="2679" y="205">a2</text></g>
</g>
<g fill="none" stroke="#8ea4d6" stroke-width="1.2">
<path d="M2384 129 L2385.5 139 Q2387 141 2392 141 L2424 141"/>
<path d="M2440 126 L2441.5 137 Q2443 139 2448 139 L2469 139"/>
<path d="M2493 119 L2494 129 Q2495 131 2500 131 L2515 131"/>
<path d="M2548 121 L2549 132 Q2551 134 2556 134 L2579 134"/>
<path d="M2603 120 L2604 129 Q2606 131 2610 131 L2617 131"/>
<path d="M2658 121 L2659 132 Q2661 134 2666 134 L2682 134"/>
</g>
<g fill="none" stroke="#e08585" stroke-width="1.2">
<path d="M2383 166 L2386 166 L2388 174 L2400 174 L2401 180 L2424 180"/>
<path d="M2439 165 L2442 171 L2450 172 L2452 177 L2469 178"/>
<path d="M2493 169 L2500 171 L2508 173 L2515 175"/>
<path d="M2547 167 L2549 176 L2560 177 L2562 180 L2579 180"/>
<path d="M2603 162 L2604 172 Q2606 175 2610 175 L2617 175"/>
<path d="M2657 163 L2658 172 Q2660 175 2665 175 L2682 175"/>
</g>

<!-- Table 2 -->
<g stroke="#222" stroke-width="1" fill="none">
<rect x="2973" y="140" width="544" height="183"/>
<line x1="2973" y1="176" x2="3517" y2="176"/><line x1="2973" y1="250" x2="3517" y2="250"/>
<line x1="3099" y1="140" x2="3099" y2="323"/><line x1="3225.6" y1="140" x2="3225.6" y2="323"/><line x1="3383" y1="140" x2="3383" y2="323"/>
</g>
<g font-size="13.4" text-anchor="middle" fill="#1a1a1a">
<text x="3162" y="153">Model</text><text x="3304" y="153"><tspan font-style="italic">s</tspan> value</text><text x="3452" y="153">Distance</text>
<text x="3126" y="170.5">mhe</text><text x="3188" y="170.5">half_mhe</text><text x="3252" y="170.5">0</text><text x="3304" y="170.5">1</text><text x="3356.5" y="170.5">2</text><text x="3420" y="170.5">euclidean</text><text x="3484" y="170.5">angular</text>
<text x="3010" y="222">Vocals</text><text x="3010" y="299">Accomp.</text>
<g><text x="3069.5" y="190">Med</text><text x="3069.5" y="207.5">MAD</text><text x="3069.5" y="226">Mean</text><text x="3069.5" y="244.5">SD</text>
<text x="3069.5" y="263">Med</text><text x="3069.5" y="281.5">MAD</text><text x="3069.5" y="299">Mean</text><text x="3069.5" y="317.5">SD</text></g>
<g><text x="3126" y="190">3.56</text><text x="3188" y="190">3.56</text><text x="3252" y="190" font-weight="bold">3.58</text><text x="3304" y="190">3.57</text><text x="3356.5" y="190">3.52</text><text x="3420" y="190" font-weight="bold">3.58</text><text x="3484" y="190">3.54</text></g>
<g><text x="3126" y="207.5">2.85</text><text x="3188" y="207.5">2.90</text><text x="3252" y="207.5">2.89</text><text x="3304" y="207.5">2.87</text><text x="3356.5" y="207.5">2.86</text><text x="3420" y="207.5">2.87</text><text x="3484" y="207.5">2.87</text></g>
<g><text x="3126" y="226" font-weight="bold">-0.51</text><text x="3188" y="226">-0.58</text><text x="3252" y="226" font-weight="bold">-0.42</text><text x="3304" y="226">-0.57</text><text x="3356.5" y="226">-0.64</text><text x="3420" y="226" font-weight="bold">-0.51</text><text x="3484" y="226">-0.58</text></g>
<g><text x="3126" y="244.5">13.81</text><text x="3188" y="244.5">14.02</text><text x="3252" y="244.5">13.78</text><text x="3304" y="244.5">13.99</text><text x="3356.5" y="244.5">13.97</text><text x="3420" y="244.5">13.89</text><text x="3484" y="244.5">13.94</text></g>
<g><text x="3126" y="263">7.34</text><text x="3188" y="263">7.34</text><text x="3252" y="263" font-weight="bold">7.37</text><text x="3304" y="263">7.34</text><text x="3356.5" y="263">7.31</text><text x="3420" y="263" font-weight="bold">7.35</text><text x="3484" y="263">7.33</text></g>
<g><text x="3126" y="281.5">2.11</text><text x="3188" y="281.5">2.11</text><text x="3252" y="281.5">2.11</text><text x="3304" y="281.5">2.11</text><text x="3356.5" y="281.5">2.10</text><text x="3420" y="281.5">2.10</text><text x="3484" y="281.5">2.11</text></g>
<g><text x="3126" y="299">7.46</text><text x="3188" y="299" font-weight="bold">7.49</text><text x="3252" y="299" font-weight="bold">7.49</text><text x="3304" y="299">7.48</text><text x="3356.5" y="299">7.44</text><text x="3420" y="299" font-weight="bold">7.49</text><text x="3484" y="299">7.45</text></g>
<g><text x="3126" y="317.5">3.88</text><text x="3188" y="317.5">3.81</text><text x="3252" y="317.5">3.87</text><text x="3304" y="317.5">3.82</text><text x="3356.5" y="317.5">3.84</text><text x="3420" y="317.5">3.83</text><text x="3484" y="317.5">3.87</text></g>
</g>

<!-- Table 3 -->
<g stroke="#222" stroke-width="1" fill="none">
<rect x="2872.4" y="386" width="353.2" height="185"/>
<line x1="2872.4" y1="404.6" x2="3225.6" y2="404.6"/><line x1="2872.4" y1="478.5" x2="3225.6" y2="478.5"/><line x1="2872.4" y1="551.5" x2="3225.6" y2="551.5"/>
<line x1="3007.7" y1="386" x2="3007.7" y2="571"/><line x1="3065.7" y1="386" x2="3065.7" y2="571"/><line x1="3121.5" y1="386" x2="3121.5" y2="571"/><line x1="3175" y1="386" x2="3175" y2="571"/>
</g>
<g font-size="13.4" text-anchor="middle" fill="#1a1a1a">
<text x="2955.7" y="399">Value of λ<tspan font-size="9" dy="2">h</tspan></text><text x="3036.7" y="399">Basel.</text><text x="3093.6" y="399">1/(2L)</text><text x="3148.6" y="399">1/L</text><text x="3200" y="399">1</text>
<text x="2896" y="450">Voc.</text><text x="2896" y="523.5">Acc.</text>
<text x="2941.6" y="418.3">Med</text><text x="2941.6" y="436">MAD</text><text x="2941.6" y="454.5">Mean</text><text x="2941.6" y="473">SD</text>
<text x="2941.6" y="491.5">Med</text><text x="2941.6" y="509.5">MAD</text><text x="2941.6" y="527.5">Mean</text><text x="2941.6" y="546">SD</text>
<text x="2940.8" y="564.5">Epochs</text>
<text x="3036.7" y="418.3">3.65</text><text x="3093.6" y="418.3">3.50</text><text x="3148.6" y="418.3" font-weight="bold">3.69</text><text x="3200" y="418.3">3.64</text>
<text x="3036.7" y="436">3.04</text><text x="3093.6" y="436">2.82</text><text x="3148.6" y="436">2.98</text><text x="3200" y="436">2.96</text>
<text x="3036.7" y="454.5">-0.56</text><text x="3093.6" y="454.5">-0.39</text><text x="3148.6" y="454.5" font-weight="bold">0.01</text><text x="3200" y="454.5">-0.10</text>
<text x="3036.7" y="473">14.23</text><text x="3093.6" y="473">13.53</text><text x="3148.6" y="473">13.31</text><text x="3200" y="473">13.30</text>
<text x="3036.7" y="491.5">7.37</text><text x="3093.6" y="491.5">7.32</text><text x="3148.6" y="491.5" font-weight="bold">7.44</text><text x="3200" y="491.5">7.42</text>
<text x="3036.7" y="509.5">2.10</text><text x="3093.6" y="509.5">2.11</text><text x="3148.6" y="509.5">2.14</text><text x="3200" y="509.5">2.14</text>
<text x="3036.7" y="527.5">7.53</text><text x="3093.6" y="527.5">7.44</text><text x="3148.6" y="527.5" font-weight="bold">7.56</text><text x="3200" y="527.5">7.54</text>
<text x="3036.7" y="546">3.74</text><text x="3093.6" y="546">3.92</text><text x="3148.6" y="546">3.89</text><text x="3200" y="546">3.89</text>
<text x="3036.7" y="564.5">120</text><text x="3093.6" y="564.5">76</text><text x="3148.6" y="564.5">167</text><text x="3200" y="564.5">120</text>
</g>

<!-- Table 4 -->
<g stroke="#222" stroke-width="1" fill="none">
<rect x="2882" y="615.4" width="335.4" height="184.6"/>
<line x1="2882" y1="634" x2="3217.4" y2="634"/><line x1="2882" y1="707.7" x2="3217.4" y2="707.7"/><line x1="2882" y1="780.8" x2="3217.4" y2="780.8"/>
<line x1="2987" y1="615.4" x2="2987" y2="800"/><line x1="3075.4" y1="615.4" x2="3075.4" y2="800"/><line x1="3138.6" y1="615.4" x2="3138.6" y2="800"/>
</g>
<g font-size="13.4" text-anchor="middle" fill="#1a1a1a">
<text x="2957" y="629">Model</text><text x="3031" y="629">M4(reimp.)</text><text x="3107" y="629">MHE_0</text><text x="3178" y="629">M4(orig.)</text>
<text x="2905" y="679">Voc.</text><text x="2905" y="753">Acc.</text>
<text x="2950.5" y="647.5">Med</text><text x="2950.5" y="665.3">MAD</text><text x="2950.5" y="683.5">Mean</text><text x="2950.5" y="702.2">SD</text>
<text x="2950.5" y="720.5">Med</text><text x="2950.5" y="739">MAD</text><text x="2950.5" y="756.5">Mean</text><text x="2950.5" y="775.3">SD</text>
<text x="2926.7" y="794.5">Epochs</text>
<text x="3031" y="647.5">4.44</text><text x="3107" y="647.5" font-weight="bold">4.69</text><text x="3178" y="647.5">4.46</text>
<text x="3031" y="665.3">3.15</text><text x="3107" y="665.3">3.24</text><text x="3178" y="665.3">3.21</text>
<text x="3031" y="683.5">0.17</text><text x="3107" y="683.5" font-weight="bold">0.75</text><text x="3178" y="683.5">0.65</text>
<text x="3031" y="702.2">14.38</text><text x="3107" y="702.2">13.91</text><text x="3178" y="702.2">13.67</text>
<text x="3031" y="720.5">10.54</text><text x="3107" y="720.5" font-weight="bold">10.88</text><text x="3178" y="720.5">10.69</text>
<text x="3031" y="739">3.01</text><text x="3107" y="739">3.13</text><text x="3178" y="739">3.15</text>
<text x="3031" y="756.5">11.71</text><text x="3107" y="756.5" font-weight="bold">12.10</text><text x="3178" y="756.5">11.85</text>
<text x="3031" y="775.3">6.48</text><text x="3107" y="775.3">6.77</text><text x="3178" y="775.3">7.03</text>
<text x="3031" y="794.5">90</text><text x="3107" y="794.5">122</text><text x="3178" y="794.5">-</text>
</g>

<!-- Fig 4 spectrograms -->
<g>
<rect x="2883" y="822" width="157" height="95" fill="#3d2b74"/>
<rect x="2883" y="822" width="157" height="95" fill="url(#st)"/>
<rect x="2883" y="822" width="157" height="6" fill="#40115e"/>
<rect x="2883" y="895" width="157" height="22" fill="url(#gb)" opacity=".7"/>
<rect x="2990" y="870" width="48" height="45" fill="#3aa08a" opacity=".35"/>

<rect x="3069" y="822" width="157" height="95" fill="#3a2870"/>
<rect x="3069" y="822" width="157" height="95" fill="url(#st)" opacity=".8"/>
<rect x="3069" y="822" width="157" height="6" fill="#40115e"/>
<rect x="3069" y="898" width="157" height="19" fill="url(#gb)" opacity=".55"/>
<rect x="3176" y="875" width="40" height="40" fill="#3aa08a" opacity=".3"/>

<rect x="2883" y="947" width="157" height="96" fill="#44085a"/>
<rect x="2967" y="947" width="73" height="96" fill="#3d3a80"/>
<rect x="2967" y="947" width="73" height="96" fill="url(#st)"/>
<rect x="2967" y="1010" width="73" height="33" fill="url(#gb)"/>

<rect x="3069" y="947" width="157" height="96" fill="#3d2b74"/>
<rect x="3069" y="947" width="157" height="96" fill="url(#st)"/>
<rect x="3069" y="1020" width="157" height="23" fill="url(#gb)" opacity=".8"/>
<rect x="3069" y="1000" width="18" height="43" fill="#44085a" opacity=".7"/>
</g>
<g font-family="Liberation Sans, sans-serif" font-size="7.5" fill="#333" text-anchor="middle">
<text x="2961" y="819">Baseline Estimated Vocals</text><text x="3147" y="819">MHE=0 Estimated Vocals</text>
<text x="2961" y="945">True Vocals</text><text x="3147" y="945">Mixture</text>
</g>
<g font-family="Liberation Sans, sans-serif" font-size="4" fill="#555" text-anchor="end">
<text x="2881" y="833">10000</text><text x="2881" y="852">8000</text><text x="2881" y="870">6000</text><text x="2881" y="888">4000</text><text x="2881" y="906">2000</text><text x="2881" y="918">0</text>
<text x="3067" y="833">10000</text><text x="3067" y="852">8000</text><text x="3067" y="870">6000</text><text x="3067" y="888">4000</text><text x="3067" y="906">2000</text><text x="3067" y="918">0</text>
<text x="2881" y="958">10000</text><text x="2881" y="977">8000</text><text x="2881" y="995">6000</text><text x="2881" y="1013">4000</text><text x="2881" y="1031">2000</text><text x="2881" y="1044">0</text>
<text x="3067" y="958">10000</text><text x="3067" y="977">8000</text><text x="3067" y="995">6000</text><text x="3067" y="1013">4000</text><text x="3067" y="1031">2000</text><text x="3067" y="1044">0</text>
</g>
<g font-family="Liberation Sans, sans-serif" font-size="4" fill="#555" text-anchor="middle">
<text x="2961" y="928">Time</text><text x="3147" y="928">Time</text><text x="2961" y="1055">Time</text><text x="3147" y="1055">Time</text>
</g>
</svg>
</body></html>
